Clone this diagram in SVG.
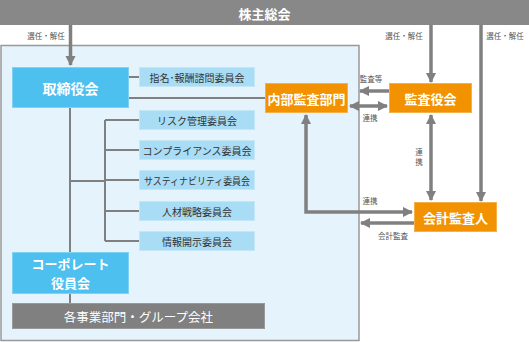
<svg xmlns="http://www.w3.org/2000/svg" width="529" height="342" viewBox="0 0 529 342">
<defs>
<marker id="ah" viewBox="0 0 10 10" refX="9" refY="5" markerWidth="3" markerHeight="3" orient="auto-start-reverse" markerUnits="strokeWidth">
<path d="M0,0 L10,5 L0,10 z" fill="#808080"/>
</marker>
<style>
text{font-family:"Noto Sans CJK JP","Noto Sans",sans-serif;}
.t-w{fill:#fff;text-anchor:middle;dominant-baseline:central;}
.t-d{fill:#333;text-anchor:middle;dominant-baseline:central;font-size:10px;}
.t-s{fill:#555;text-anchor:middle;dominant-baseline:central;font-size:7.5px;}
.blue{fill:#4dc0f0;stroke:#7fd2f4;stroke-width:1;}
.lblue{fill:#a9dcf5;stroke:#c4e7f8;stroke-width:1;}
.orange{fill:#f39200;stroke:#f6b04a;stroke-width:1;}
.gray{fill:#808080;stroke:#999;stroke-width:1;}
.thin{stroke:#808080;stroke-width:2;fill:none;}
.arr{stroke:#808080;stroke-width:3.5;fill:none;marker-end:url(#ah);}
.arr2{stroke:#808080;stroke-width:3.5;fill:none;marker-end:url(#ah);marker-start:url(#ah);}
</style>
</defs>
<rect width="529" height="342" fill="#fff"/>
<rect x="1" y="45.5" width="358" height="295" fill="#e5f4fc" stroke="#999" stroke-width="1.5"/>

<g id="connectors">
<line class="thin" x1="70" y1="108" x2="70" y2="303"/>
<line class="thin" x1="129" y1="77" x2="139" y2="77"/>
<line class="thin" x1="129" y1="98" x2="265" y2="98"/>
<line class="thin" x1="70" y1="181" x2="105" y2="181"/>
<line class="thin" x1="105" y1="120" x2="105" y2="241"/>
<line class="thin" x1="105" y1="120" x2="139" y2="120"/>
<line class="thin" x1="105" y1="150" x2="139" y2="150"/>
<line class="thin" x1="105" y1="180" x2="139" y2="180"/>
<line class="thin" x1="105" y1="211" x2="139" y2="211"/>
<line class="thin" x1="105" y1="241" x2="139" y2="241"/>
<line class="arr" x1="70.5" y1="25" x2="70.5" y2="65"/>
<line class="arr" x1="431" y1="25" x2="431" y2="82"/>
<line class="arr" x1="481" y1="25" x2="481" y2="201"/>
<line class="arr" x1="389" y1="91" x2="360" y2="91"/>
<line class="arr2" x1="350" y1="106" x2="387" y2="106"/>
<line class="arr2" x1="431" y1="115" x2="431" y2="200"/>
<polyline class="arr" points="306,115 306,212 412,212" style="marker-start:url(#ah)"/>
<line class="arr" x1="414" y1="223" x2="361" y2="223"/>
<text class="t-s" x="46" y="35">選任・解任</text>
<text class="t-s" x="404" y="35">選任・解任</text>
<text class="t-s" x="505" y="35">選任・解任</text>
<text class="t-s" x="371" y="78">監査等</text>
<text class="t-s" x="370" y="117">連携</text>
<text class="t-s" x="419" y="151">連</text>
<text class="t-s" x="419" y="161">携</text>
<text class="t-s" x="370" y="200">連携</text>
<text class="t-s" x="393" y="235">会計監査</text>
</g>

<g id="shareholders">
<rect x="0" y="0" width="529" height="25" fill="#888"/>
<text class="t-w" x="264.5" y="13" font-size="13" font-weight="bold">株主総会</text>
</g>
<g id="board">
<rect class="blue" x="12.5" y="67.5" width="116" height="40"/>
<text class="t-w" x="70.5" y="88" font-size="14" font-weight="bold">取締役会</text>
</g>
<g id="nomination">
<rect class="lblue" x="139.5" y="67.5" width="115" height="19"/>
<text class="t-d" x="197" y="77">指名･報酬諮問委員会</text>
</g>
<g id="risk">
<rect class="lblue" x="139.5" y="110.5" width="115" height="19"/>
<text class="t-d" x="197" y="120">リスク管理委員会</text>
</g>
<g id="compliance">
<rect class="lblue" x="139.5" y="140.5" width="115" height="19"/>
<text class="t-d" x="197" y="150">コンプライアンス委員会</text>
</g>
<g id="sustainability">
<rect class="lblue" x="139.5" y="170.5" width="115" height="19"/>
<text class="t-d" x="197" y="180" textLength="106" lengthAdjust="spacingAndGlyphs">サスティナビリティ委員会</text>
</g>
<g id="hr">
<rect class="lblue" x="139.5" y="201.5" width="115" height="19"/>
<text class="t-d" x="197" y="211">人材戦略委員会</text>
</g>
<g id="disclosure">
<rect class="lblue" x="139.5" y="231.5" width="115" height="19"/>
<text class="t-d" x="197" y="241">情報開示委員会</text>
</g>
<g id="corporate">
<rect class="blue" x="12.5" y="252.5" width="116" height="41"/>
<text class="t-w" x="70.5" y="263.5" font-size="13" font-weight="bold">コーポレート</text>
<text class="t-w" x="70.5" y="282.5" font-size="13" font-weight="bold">役員会</text>
</g>
<g id="divisions">
<rect class="gray" x="12.5" y="303.5" width="252" height="25"/>
<text class="t-w" x="138.5" y="316" font-size="12.5">各事業部門・グループ会社</text>
</g>
<g id="internal-audit">
<rect class="orange" x="265.5" y="83.5" width="82" height="29"/>
<text class="t-w" x="306.5" y="98" font-size="13" font-weight="bold">内部監査部門</text>
</g>
<g id="auditors">
<rect class="orange" x="389.5" y="83.5" width="82" height="29"/>
<text class="t-w" x="430.5" y="98" font-size="13" font-weight="bold">監査役会</text>
</g>
<g id="accounting-auditor">
<rect class="orange" x="414.5" y="202.5" width="82" height="29"/>
<text class="t-w" x="455.5" y="217" font-size="13" font-weight="bold">会計監査人</text>
</g>
</svg>
